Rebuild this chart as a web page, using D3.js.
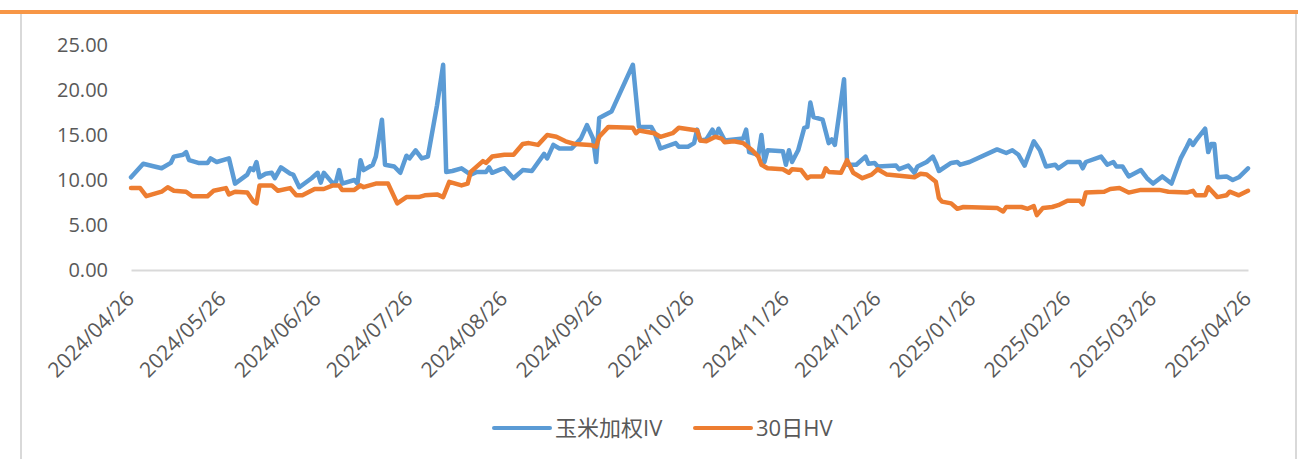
<!DOCTYPE html>
<html>
<head>
<meta charset="utf-8">
<script src="https://cdn.jsdelivr.net/npm/d3@7/dist/d3.min.js"></script>
<style>
body {margin:0; background:#fff;}
text {font-family: "Open Sans", "Noto Sans CJK SC", sans-serif; fill:#595959;}
</style>
</head>
<body>
<svg width="1298" height="459"></svg>
<script>
// 玉米加权IV
const ivDates = ["2024-04-26","2024-04-30","2024-05-06","2024-05-09","2024-05-10","2024-05-13","2024-05-14","2024-05-15","2024-05-18","2024-05-21",
"2024-05-22","2024-05-24","2024-05-28","2024-05-30","2024-06-03","2024-06-04","2024-06-05","2024-06-06","2024-06-07","2024-06-09",
"2024-06-11","2024-06-12","2024-06-14","2024-06-17","2024-06-18","2024-06-20","2024-06-24","2024-06-26","2024-06-27","2024-06-28",
"2024-07-01","2024-07-02","2024-07-03","2024-07-04","2024-07-08","2024-07-09","2024-07-10","2024-07-11","2024-07-14","2024-07-15",
"2024-07-17","2024-07-18","2024-07-21","2024-07-23","2024-07-25","2024-07-26","2024-07-28","2024-07-30","2024-08-01","2024-08-04",
"2024-08-06","2024-08-07","2024-08-09","2024-08-12","2024-08-15","2024-08-17","2024-08-20","2024-08-21","2024-08-22","2024-08-25",
"2024-08-26","2024-08-29","2024-09-01","2024-09-04","2024-09-08","2024-09-09","2024-09-11","2024-09-13","2024-09-17","2024-09-20",
"2024-09-22","2024-09-24","2024-09-25","2024-09-26","2024-09-30","2024-10-07","2024-10-09","2024-10-13","2024-10-14","2024-10-16",
"2024-10-21","2024-10-22","2024-10-25","2024-10-27","2024-10-28","2024-10-29","2024-10-31","2024-11-02","2024-11-03","2024-11-04",
"2024-11-06","2024-11-12","2024-11-13","2024-11-14","2024-11-17","2024-11-18","2024-11-19","2024-11-20","2024-11-25","2024-11-26",
"2024-11-27","2024-11-28","2024-11-30","2024-12-02","2024-12-03","2024-12-04","2024-12-05","2024-12-08","2024-12-10","2024-12-11",
"2024-12-12","2024-12-15","2024-12-16","2024-12-19","2024-12-22","2024-12-23","2024-12-25","2024-12-26","2025-01-01","2025-01-02",
"2025-01-05","2025-01-07","2025-01-08","2025-01-11","2025-01-13","2025-01-14","2025-01-15","2025-01-19","2025-01-21","2025-01-22",
"2025-01-25","2025-02-03","2025-02-06","2025-02-08","2025-02-10","2025-02-12","2025-02-15","2025-02-17","2025-02-19","2025-02-22",
"2025-02-23","2025-02-26","2025-03-02","2025-03-03","2025-03-04","2025-03-09","2025-03-11","2025-03-13","2025-03-14","2025-03-16",
"2025-03-18","2025-03-22","2025-03-24","2025-03-26","2025-03-29","2025-04-01","2025-04-04","2025-04-06","2025-04-07","2025-04-08",
"2025-04-09","2025-04-12","2025-04-13","2025-04-14","2025-04-15","2025-04-16","2025-04-19","2025-04-21","2025-04-23","2025-04-26"];
const ivValues = [10.3,11.8,11.3,11.9,12.6,12.8,13.1,12.2,11.9,11.9,
12.4,12.0,12.4,9.6,10.6,11.3,11.1,12.0,10.3,10.7,
10.8,10.2,11.4,10.7,10.6,9.2,10.2,10.8,9.7,10.8,
9.6,9.8,11.1,9.6,10.0,9.6,12.2,11.1,11.7,12.6,
16.7,11.7,11.5,10.8,12.7,12.4,13.3,12.4,12.6,18.3,
22.8,10.9,11.0,11.3,10.6,10.9,10.9,11.4,10.8,11.2,
11.3,10.2,11.1,11.0,12.9,12.4,13.9,13.5,13.5,14.6,
16.1,14.6,12.0,16.9,17.6,22.8,15.9,15.9,15.3,13.5,
14.1,13.7,13.7,14.1,15.6,14.4,14.5,15.6,14.8,15.7,
14.4,14.6,15.6,13.1,12.8,15.0,12.0,13.3,13.2,11.7,
13.3,12.0,13.3,15.8,15.9,18.6,17.0,16.7,14.1,14.5,
13.9,21.2,11.7,11.7,12.6,11.8,11.9,11.5,11.6,11.2,
11.6,10.8,11.5,12.0,12.6,11.9,11.0,11.9,12.0,11.7,
12.0,13.4,13.0,13.3,12.8,11.6,14.3,13.3,11.5,11.7,
11.3,12.0,12.0,11.3,12.0,12.6,11.7,12.0,11.5,11.5,
10.4,11.1,10.2,9.6,10.4,9.6,12.4,13.7,14.4,13.9,
14.4,15.7,13.1,14.0,14.0,10.3,10.4,10.0,10.3,11.3];

// 30日HV
const hvDates = ["2024-04-26","2024-04-29","2024-05-01","2024-05-06","2024-05-08","2024-05-10","2024-05-14","2024-05-16","2024-05-21","2024-05-23",
"2024-05-27","2024-05-28","2024-05-30","2024-06-03","2024-06-05","2024-06-06","2024-06-07","2024-06-11","2024-06-13","2024-06-17",
"2024-06-19","2024-06-21","2024-06-25","2024-06-28","2024-07-01","2024-07-03","2024-07-04","2024-07-08","2024-07-10","2024-07-11",
"2024-07-15","2024-07-19","2024-07-22","2024-07-25","2024-07-29","2024-07-31","2024-08-04","2024-08-06","2024-08-08","2024-08-12",
"2024-08-14","2024-08-15","2024-08-19","2024-08-20","2024-08-22","2024-08-26","2024-08-29","2024-09-01","2024-09-03","2024-09-06",
"2024-09-09","2024-09-12","2024-09-15","2024-09-18","2024-09-23","2024-09-25","2024-09-26","2024-09-29","2024-10-07","2024-10-08",
"2024-10-09","2024-10-14","2024-10-16","2024-10-20","2024-10-22","2024-10-28","2024-10-29","2024-10-31","2024-11-03","2024-11-05",
"2024-11-06","2024-11-09","2024-11-12","2024-11-15","2024-11-17","2024-11-18","2024-11-20","2024-11-25","2024-11-27","2024-11-28",
"2024-12-01","2024-12-03","2024-12-04","2024-12-08","2024-12-09","2024-12-10","2024-12-14","2024-12-16","2024-12-18","2024-12-21",
"2024-12-24","2024-12-26","2024-12-29","2025-01-07","2025-01-09","2025-01-11","2025-01-14","2025-01-15","2025-01-16","2025-01-19",
"2025-01-21","2025-01-23","2025-02-03","2025-02-05","2025-02-06","2025-02-11","2025-02-13","2025-02-15","2025-02-16","2025-02-18",
"2025-02-21","2025-02-23","2025-02-26","2025-03-02","2025-03-03","2025-03-04","2025-03-10","2025-03-12","2025-03-15","2025-03-18",
"2025-03-22","2025-03-28","2025-03-31","2025-04-06","2025-04-08","2025-04-09","2025-04-12","2025-04-13","2025-04-16","2025-04-19",
"2025-04-20","2025-04-23","2025-04-26"];
const hvValues = [9.1,9.1,8.2,8.7,9.2,8.8,8.7,8.2,8.2,8.8,
9.1,8.4,8.7,8.6,7.6,7.4,9.4,9.4,8.8,9.1,
8.3,8.3,9.0,9.0,9.4,9.4,8.9,8.9,9.4,9.2,
9.6,9.6,7.4,8.1,8.1,8.3,8.4,8.1,9.8,9.4,
9.6,10.9,12.1,11.9,12.6,12.8,12.8,14.0,14.1,13.9,
15.0,14.8,14.3,14.0,13.9,13.7,14.8,15.9,15.8,15.2,
15.5,15.2,14.8,15.2,15.8,15.5,14.4,14.3,14.8,14.6,
14.2,14.3,14.1,13.3,12.6,11.7,11.3,11.2,10.8,11.2,
11.1,10.2,10.4,10.4,11.3,10.9,10.8,12.2,10.8,10.2,
10.6,11.2,10.6,10.3,10.7,10.6,9.8,8.0,7.6,7.4,
6.8,7.0,6.9,6.5,7.0,7.0,6.8,7.1,6.1,6.9,
7.0,7.2,7.7,7.7,7.3,8.6,8.7,9.0,9.1,8.6,
8.9,8.9,8.7,8.6,8.8,8.3,8.3,9.2,8.1,8.3,
8.7,8.3,8.8];

const yTicks = [0, 5, 10, 15, 20, 25];
const xTickLabels = ["2024/04/26","2024/05/26","2024/06/26","2024/07/26","2024/08/26","2024/09/26",
  "2024/10/26","2024/11/26","2024/12/26","2025/01/26","2025/02/26","2025/03/26","2025/04/26"];
const seriesNames = ["玉米加权IV", "30日HV"];
const colors = ["#5B9BD5", "#ED7D31"];

const parse = d3.timeParse("%Y-%m-%d");
const parseTick = d3.timeParse("%Y/%m/%d");

var svg = d3.select("svg");

// frame
svg.append("rect").attr("x", 21).attr("y", 13).attr("width", 1275).attr("height", 460)
  .attr("fill", "none").attr("stroke", "#d9d9d9").attr("stroke-width", 2);
svg.append("rect").attr("x", 0).attr("y", 10).attr("width", 1298).attr("height", 4)
  .attr("fill", "#F79646");

var x = d3.scaleTime().domain([parseTick(xTickLabels[0]), parseTick(xTickLabels[12])]).range([131, 1248]);
var y = d3.scaleLinear().domain([0, 25]).range([270, 45]);

var yAxis = d3.axisLeft(y).tickValues(yTicks).tickSize(0).tickPadding(23).tickFormat(d3.format(".2f"));
var gy = svg.append("g").attr("transform", "translate(131,0)").call(yAxis);
gy.select(".domain").remove();
gy.selectAll("text").style("font-size", "20px").attr("fill", "#595959");

var xAxis = d3.axisBottom(x).tickValues(xTickLabels.map(parseTick)).tickSize(0)
  .tickFormat(d3.timeFormat("%Y/%m/%d"));
var gx = svg.append("g").attr("transform", "translate(0,270)").call(xAxis);
gx.select(".domain").attr("stroke", "#d9d9d9").attr("stroke-width", 2);
gx.selectAll("text")
  .style("font-size", "21px")
  .attr("fill", "#595959")
  .attr("text-anchor", "end")
  .attr("y", 0).attr("dy", null)
  .attr("transform", "translate(4,30) rotate(-45)");

var line = d3.line().x(d => x(d[0])).y(d => y(d[1]));

var series = [
  d3.zip(ivDates.map(parse), ivValues),
  d3.zip(hvDates.map(parse), hvValues)
];

svg.selectAll("path.series")
  .data(series)
  .enter().append("path")
  .attr("class", "series")
  .attr("d", line)
  .attr("fill", "none")
  .attr("stroke", (d, i) => colors[i])
  .attr("stroke-width", 4.5)
  .attr("stroke-linejoin", "round")
  .attr("stroke-linecap", "round");

// legend
var legendX = [494, 695];
var lg = svg.selectAll("g.legend").data(seriesNames).enter().append("g")
  .attr("class", "legend")
  .attr("transform", (d, i) => "translate(" + legendX[i] + ",428)");
lg.append("line").attr("x1", 0).attr("x2", 56).attr("y1", 0).attr("y2", 0)
  .attr("stroke", (d, i) => colors[i]).attr("stroke-width", 4).attr("stroke-linecap", "round");
lg.append("text").attr("x", 61).attr("y", 8).style("font-size", "22px").text(d => d);
</script>
</body>
</html>
